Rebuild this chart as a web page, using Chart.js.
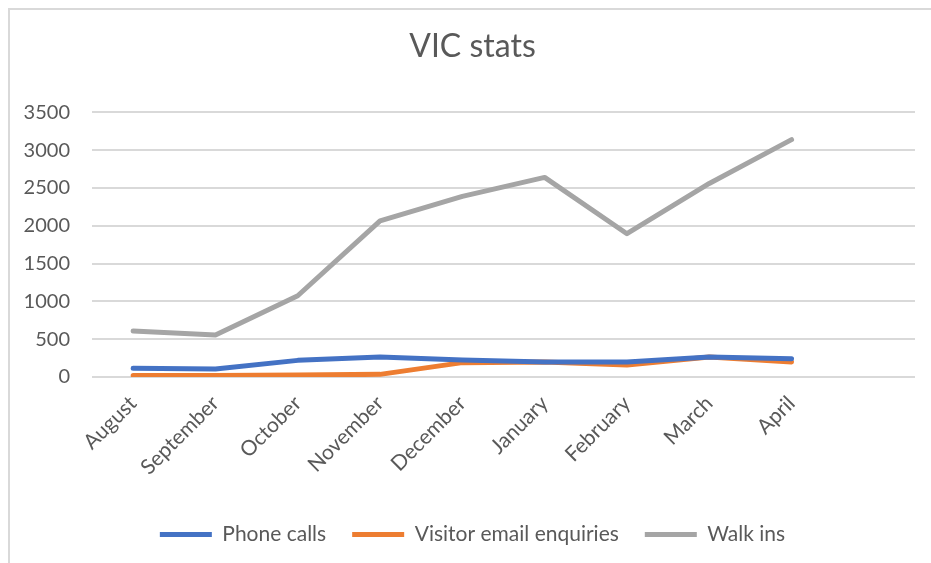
<!DOCTYPE html>
<html lang="en">
<head>
    <meta charset="UTF-8">
    <title>VIC stats</title>
    <script src="https://cdn.jsdelivr.net/npm/chart.js"></script>
    <style>
        body { margin: 0; background: #fff; }
        #frame {
            position: absolute; left: 8px; top: 8px; width: 940px; height: 570px;
            border-left: 2px solid #d9d9d9; border-top: 2px solid #d9d9d9;
        }
        #wrap { position: absolute; left: 0; top: 0; width: 931px; height: 563px; }
    </style>
</head>
<body>
    <div id="frame"></div>
    <div id="wrap"><canvas id="vicChart" width="931" height="563"></canvas></div>

    <script>
        // data (last category is an empty slot)
        const months = ['August', 'September', 'October', 'November', 'December', 'January', 'February', 'March', 'April', ''];
        const phoneCalls = [115, 105, 220, 265, 225, 200, 200, 265, 240, null];
        const emailEnquiries = [20, 20, 25, 35, 190, 200, 160, 265, 200, null];
        const walkIns = [610, 555, 1075, 2065, 2390, 2640, 1895, 2560, 3140, null];

        const textColor = '#595959';
        const font = 'Lato';

        const ctx = document.getElementById('vicChart').getContext('2d');

        const makeSet = (label, data, color) => ({
            label: label,
            data: data,
            borderColor: color,
            backgroundColor: color,
            borderWidth: 5,
            borderCapStyle: 'round',
            borderJoinStyle: 'round',
            pointRadius: 0,
            tension: 0,
            fill: false
        });

        new Chart(ctx, {
            type: 'line',
            data: {
                labels: months,
                datasets: [
                    makeSet('Phone calls', phoneCalls, '#4472C4'),
                    makeSet('Visitor email enquiries', emailEnquiries, '#ED7D31'),
                    makeSet('Walk ins', walkIns, '#A5A5A5')
                ]
            },
            options: {
                responsive: false,
                animation: false,
                layout: { padding: { left: 14, right: 0, top: 0, bottom: 8 } },
                plugins: {
                    title: {
                        display: true,
                        text: 'VIC stats',
                        color: textColor,
                        font: { family: font, size: 32, weight: 'normal' },
                        padding: { top: 27, bottom: 47 }
                    },
                    legend: {
                        position: 'bottom',
                        labels: {
                            color: textColor,
                            font: { family: font, size: 21 },
                            boxWidth: 52,
                            boxHeight: 5,
                            padding: 26,
                            generateLabels: (chart) => Chart.defaults.plugins.legend.labels.generateLabels(chart)
                                .map(item => Object.assign(item, { lineWidth: 0 }))
                        }
                    },
                    tooltip: { enabled: false }
                },
                scales: {
                    x: {
                        offset: true,
                        grid: { display: false },
                        border: { display: false },
                        ticks: {
                            color: textColor,
                            font: { family: font, size: 21 },
                            minRotation: 45,
                            maxRotation: 45,
                            autoSkip: false,
                            padding: 6
                        },
                        afterFit: (scale) => { scale.height = 121; }
                    },
                    y: {
                        min: 0,
                        max: 3500,
                        grid: { color: '#d9d9d9', lineWidth: 2, drawTicks: false },
                        border: { display: false },
                        ticks: {
                            stepSize: 500,
                            color: textColor,
                            font: { family: font, size: 20 },
                            padding: 22,
                            callback: (value) => String(value)
                        },
                        afterFit: (scale) => { scale.width = 78; }
                    },
                    // empty right axis only keeps the gap on the right of the plot
                    yRight: {
                        position: 'right',
                        min: 0,
                        max: 3500,
                        grid: { display: false },
                        border: { display: false },
                        ticks: { display: false },
                        afterFit: (scale) => { scale.width = 16; }
                    }
                }
            }
        });
    </script>
</body>
</html>
